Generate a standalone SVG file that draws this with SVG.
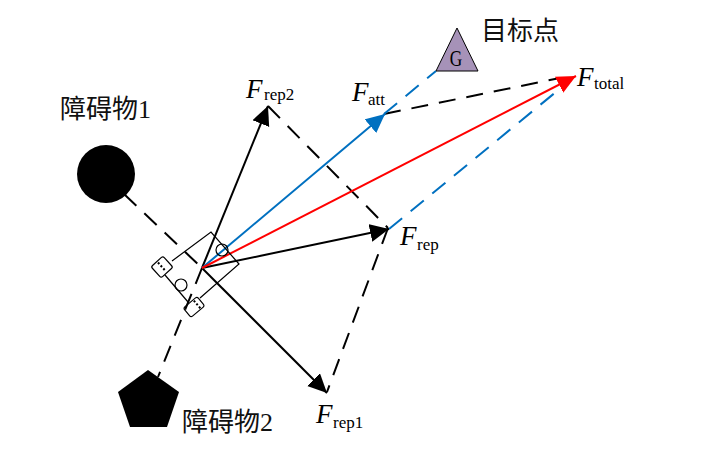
<svg xmlns="http://www.w3.org/2000/svg" width="721" height="452" viewBox="0 0 721 452">
<style>
.k{fill:none;stroke:#000;stroke-width:2}
.d{stroke-dasharray:17 11}
.b{fill:none;stroke:#0070c0;stroke-width:2}
.t{fill:none;stroke:#000;stroke-width:1.2}
.w{stroke:#000;stroke-width:2;stroke-dasharray:2 2;fill:none}
.f{font-family:"Liberation Serif",serif;fill:#000}
.i{font-style:italic;font-size:27px}
.s{font-size:17px}
.c{font-family:"Liberation Serif","Noto Sans CJK SC",serif;font-size:26px;fill:#111}
</style>
<defs>
<marker id="ak" markerUnits="userSpaceOnUse" markerWidth="22" markerHeight="20" refX="19" refY="9" orient="auto"><path d="M0 0L19 9L0 18z" fill="#000"/></marker>
<marker id="ab" markerUnits="userSpaceOnUse" markerWidth="22" markerHeight="20" refX="19" refY="9" orient="auto"><path d="M0 0L19 9L0 18z" fill="#0070c0"/></marker>
<marker id="ar" markerUnits="userSpaceOnUse" markerWidth="22" markerHeight="20" refX="19" refY="9" orient="auto"><path d="M0 0L19 9L0 18z" fill="#f00"/></marker>
</defs>
<g id="connectors">
<path class="k d" d="M124 194L202 268"/>
<path class="k d" d="M202 268L158 377"/>
<path class="k d" d="M268 106L388 228"/>
<path class="k d" d="M388 228L327 392"/>
<path class="k d" d="M384 114L560 78"/>
<path class="b d" d="M384 114L436 71"/>
<path class="b d" d="M389 229L562 87"/>
<path class="k" marker-end="url(#ak)" d="M202 268L268 106"/>
<path class="k" marker-end="url(#ak)" d="M202 268L327 393"/>
<path class="k" marker-end="url(#ak)" d="M202 268L389 229"/>
<path class="b" marker-end="url(#ab)" d="M202 268L385 114"/>
<path fill="none" stroke="#f00" stroke-width="2" marker-end="url(#ar)" d="M202 268L576 76"/>
</g>
<g id="robot">
<path class="t" d="M172 261L211 232L239 264L200 298M165 275L188 302"/>
<circle class="t" cx="222" cy="250" r="6"/>
<circle class="t" cx="181" cy="285" r="6"/>
<g transform="translate(162 267) rotate(-42)"><rect class="t" x="-8" y="-7.500" width="16" height="15" rx="2"/><path class="w" d="M0 -6V6"/></g>
<g transform="translate(194 307) rotate(-40)"><rect class="t" x="-9" y="-6" width="18" height="12" rx="2"/><path class="w" d="M4 -5V5"/></g>
</g>
<g id="obstacle1">
<circle cx="106" cy="174" r="29" fill="#000"/>
<text class="c" x="60" y="118">障碍物1</text>
</g>
<g id="obstacle2">
<path d="M148 370L179 392L167 427L130 427L118 392z" fill="#000"/>
<text class="c" x="182" y="431">障碍物2</text>
</g>
<g id="goal">
<path d="M457 28L478 71L436 71z" fill="#a692b8" stroke="#000" stroke-width="1"/>
<text class="f" transform="translate(456 66) scale(.72 1)" font-size="24" text-anchor="middle">G</text>
<text class="c" x="481" y="40">目标点</text>
</g>
<g id="labels">
<text class="f i" x="246" y="98">F</text><text class="f s" x="264" y="100">rep2</text>
<text class="f i" x="352" y="101">F</text><text class="f s" x="368" y="105">att</text>
<text class="f i" x="577" y="86">F</text><text class="f s" x="594" y="89">total</text>
<text class="f i" x="400" y="245">F</text><text class="f s" x="417" y="250">rep</text>
<text class="f i" x="316" y="423">F</text><text class="f s" x="333" y="428">rep1</text>
</g>
</svg>
